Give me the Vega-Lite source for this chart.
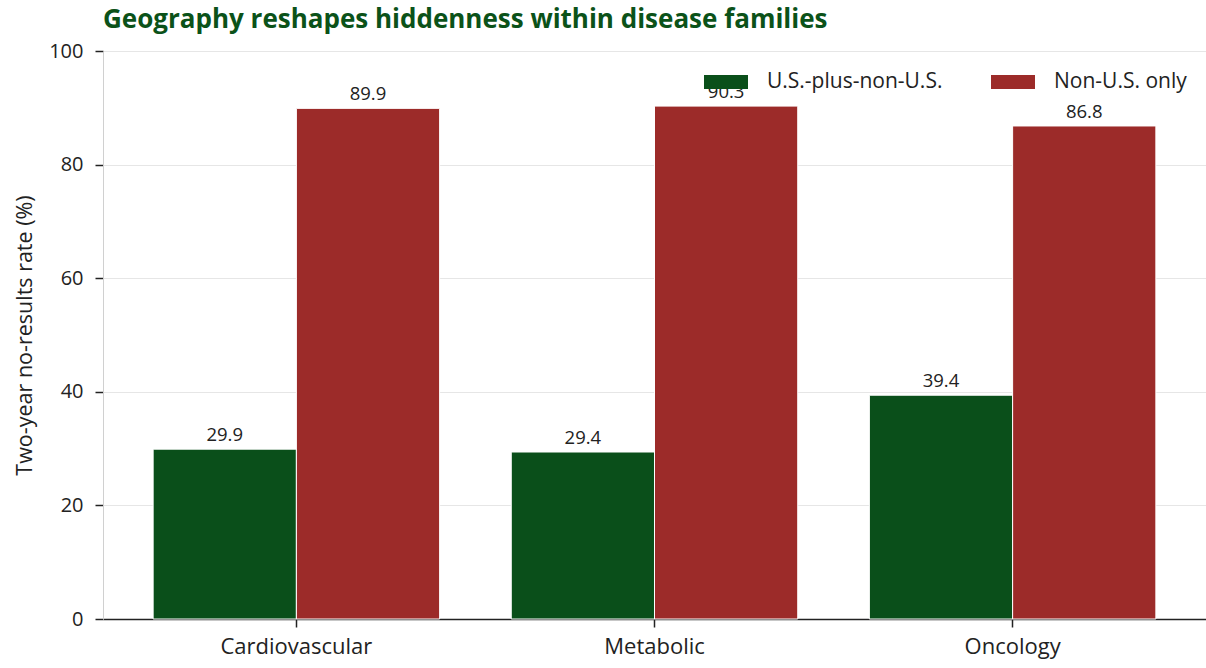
{
  "$schema": "https://vega.github.io/schema/vega-lite/v6.json",
  "width": 1103,
  "height": 568,
  "autosize": {"type": "none"},
  "padding": {"left": 103, "top": 51, "right": 0, "bottom": 49},
  "background": "white",
  "title": {
    "text": "Geography reshapes hiddenness within disease families",
    "anchor": "start",
    "frame": "group",
    "font": "Open Sans",
    "fontSize": 26,
    "fontWeight": "bold",
    "color": "#0b5219",
    "offset": 8
  },
  "config": {
    "font": "Open Sans",
    "view": {"stroke": null}
  },
  "data": {
    "values": [
      {"family": "Cardiovascular", "scope": "U.S.-plus-non-U.S.", "rate": 29.9},
      {"family": "Cardiovascular", "scope": "Non-U.S. only", "rate": 89.9},
      {"family": "Metabolic", "scope": "U.S.-plus-non-U.S.", "rate": 29.4},
      {"family": "Metabolic", "scope": "Non-U.S. only", "rate": 90.3},
      {"family": "Oncology", "scope": "U.S.-plus-non-U.S.", "rate": 39.4},
      {"family": "Oncology", "scope": "Non-U.S. only", "rate": 86.8}
    ]
  },
  "encoding": {
    "x": {
      "field": "family",
      "type": "nominal",
      "sort": ["Cardiovascular", "Metabolic", "Oncology"],
      "scale": {"paddingInner": 0.2, "paddingOuter": 0.14},
      "axis": {
        "title": null,
        "labelAngle": 0,
        "labelFontSize": 22,
        "labelColor": "#222222",
        "labelPadding": 9,
        "tickSize": 8,
        "tickColor": "#222222",
        "tickWidth": 1.5,
        "domainColor": "#222222",
        "domainWidth": 1.5,
        "grid": false
      }
    },
    "xOffset": {
      "field": "scope",
      "type": "nominal",
      "sort": ["U.S.-plus-non-U.S.", "Non-U.S. only"]
    },
    "y": {
      "field": "rate",
      "type": "quantitative",
      "scale": {"domain": [0, 100]},
      "axis": {
        "title": "Two-year no-results rate (%)",
        "titleFontSize": 21.5,
        "titleFontWeight": "normal",
        "titleColor": "#222222",
        "titlePadding": 12,
        "labelFontSize": 20,
        "labelColor": "#222222",
        "labelPadding": 12,
        "values": [0, 20, 40, 60, 80, 100],
        "tickSize": 8,
        "tickColor": "#222222",
        "tickWidth": 1.5,
        "domainColor": "#d0d0d0",
        "gridColor": "#e6e6e6",
        "gridWidth": 1
      }
    },
    "color": {
      "field": "scope",
      "type": "nominal",
      "sort": ["U.S.-plus-non-U.S.", "Non-U.S. only"],
      "scale": {
        "domain": ["U.S.-plus-non-U.S.", "Non-U.S. only"],
        "range": ["#0a4f1a", "#9c2b29"]
      },
      "legend": {
        "title": null,
        "orient": "none",
        "legendX": 601,
        "legendY": 9,
        "direction": "horizontal",
        "symbolType": "M-1,-0.32L1,-0.32L1,0.32L-1,0.32Z",
        "symbolSize": 1936,
        "symbolStrokeWidth": 0,
        "labelFontSize": 21,
        "labelLimit": 400,
        "labelColor": "#222222",
        "labelOffset": 19,
        "columnPadding": 48,
        "padding": 0
      }
    }
  },
  "layer": [
    {
      "mark": {"type": "bar", "stroke": "white", "strokeWidth": 1}
    },
    {
      "mark": {
        "type": "text",
        "baseline": "bottom",
        "dy": -4,
        "fontSize": 18.5,
        "color": "#222222"
      },
      "encoding": {
        "text": {"field": "rate", "type": "quantitative", "format": ".1f"},
        "color": {"value": "#222222"}
      }
    }
  ]
}
